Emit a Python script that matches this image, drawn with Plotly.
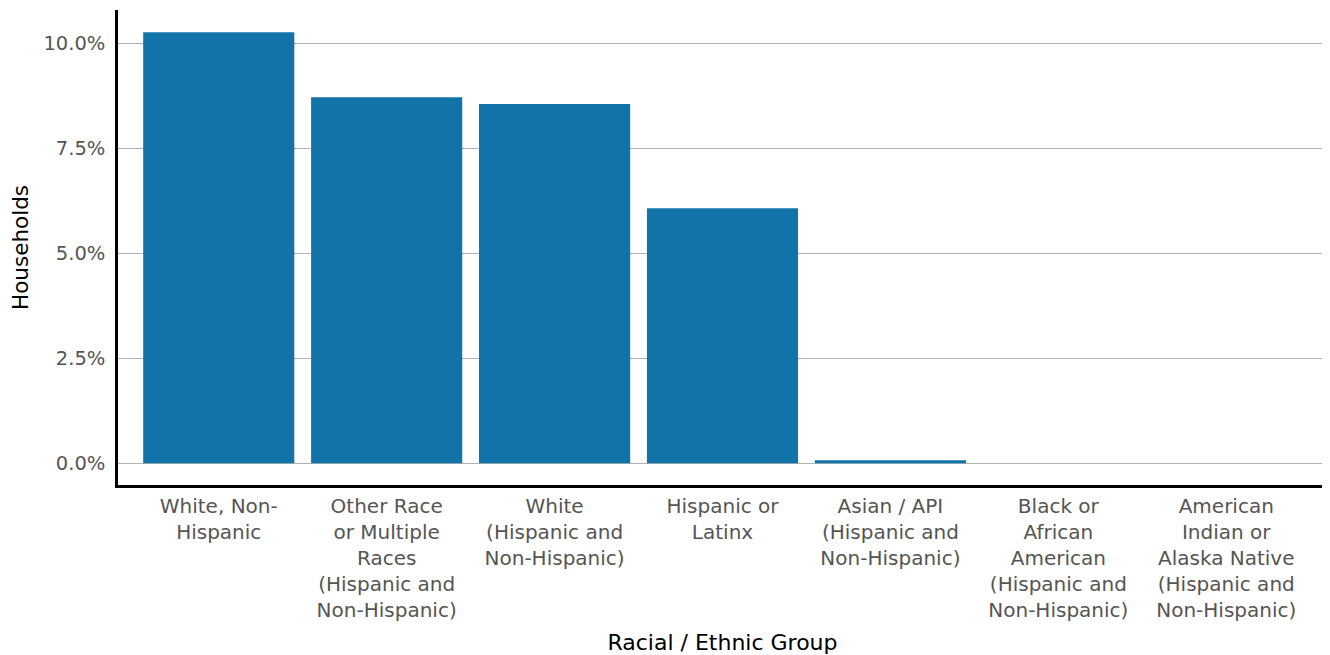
import plotly.graph_objects as go

categories = [
    "White, Non-<br>Hispanic",
    "Other Race<br>or Multiple<br>Races<br>(Hispanic and<br>Non-Hispanic)",
    "White<br>(Hispanic and<br>Non-Hispanic)",
    "Hispanic or<br>Latinx",
    "Asian / API<br>(Hispanic and<br>Non-Hispanic)",
    "Black or<br>African<br>American<br>(Hispanic and<br>Non-Hispanic)",
    "American<br>Indian or<br>Alaska Native<br>(Hispanic and<br>Non-Hispanic)",
]
values = [0.1026, 0.0871, 0.0855, 0.0607, 0.0007, 0.0, 0.0]
tick_vals = [0, 0.025, 0.05, 0.075, 0.10]

FONT = "DejaVu Sans, sans-serif"

fig = go.Figure(go.Bar(
    x=list(range(len(categories))), y=values,
    marker=dict(color="#1273a8", line=dict(width=0)),
    width=0.9,
))
fig.update_layout(
    width=1322, height=647,
    margin=dict(l=110, r=3, t=2, b=170),
    paper_bgcolor="white", plot_bgcolor="white",
    font=dict(family=FONT, size=19, color="#555555"),
    showlegend=False,
)
fig.update_xaxes(
    tickvals=list(range(len(categories))), ticktext=categories,
    tickfont=dict(size=20),
    range=[-0.6, 6.6], automargin=False,
    showline=True, linecolor="black", linewidth=2.5,
    showgrid=False, ticks="", ticklabelstandoff=1,
    title=dict(text="Racial / Ethnic Group", font=dict(color="black", size=22, family=FONT), standoff=16),
)
fig.update_yaxes(
    tickvals=tick_vals, tickformat=".1%",
    tickfont=dict(size=19.5),
    range=[-0.0052, 0.1079], automargin=False,
    showline=True, linecolor="black", linewidth=2.5,
    showgrid=True, gridcolor="#b3b3b3", gridwidth=1.2,
    zeroline=False, ticks="", ticklabelstandoff=6,
    title=dict(text="Households", font=dict(color="black", size=21.5, family=FONT), standoff=10),
)
fig.write_html("out.html")
